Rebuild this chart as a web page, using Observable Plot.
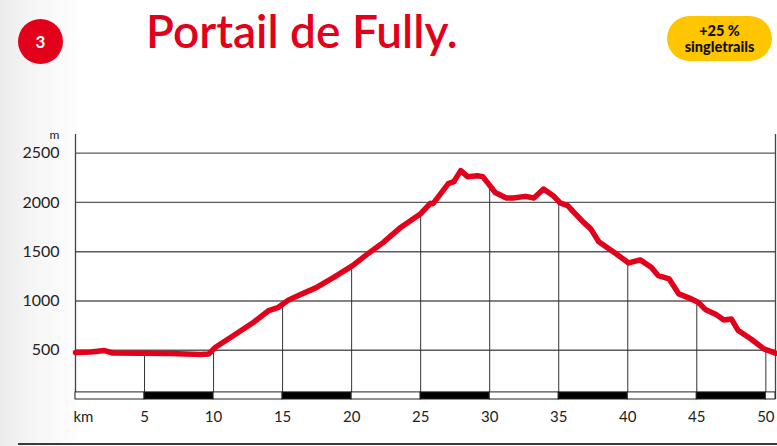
<!DOCTYPE html>
<html>
<head>
<meta charset="utf-8">
<script src="https://cdn.jsdelivr.net/npm/d3@7"></script>
<script src="https://cdn.jsdelivr.net/npm/@observablehq/plot@0.6"></script>
<style>
  html, body { margin: 0; padding: 0; background: #fff; }
  #wrap {
    position: relative; width: 777px; height: 446px; overflow: hidden;
    background: linear-gradient(to right, #ececec 0px, #f7f7f7 40px, #ffffff 85px);
    font-family: Lato, "Open Sans", sans-serif;
  }
  #num {
    position: absolute; left: 18px; top: 19px; width: 45px; height: 45px; border-radius: 50%;
    background: #e2001a; color: #fff; font-weight: 700; font-size: 17px;
    display: flex; align-items: center; justify-content: center;
  }
  #title {
    position: absolute; left: 146px; top: 3px; color: #e2001a;
    font-size: 46px; font-weight: 600; letter-spacing: 0px; white-space: nowrap;
  }
  #badge {
    position: absolute; left: 667px; top: 16px; width: 105px; height: 45px; border-radius: 23px;
    background: #ffc600; color: #111; font-weight: 900; font-size: 14.5px; line-height: 16px;
    display: flex; flex-direction: column; align-items: center; justify-content: center; text-align: center;
  }
  #rule { position: absolute; left: 18px; right: 0; top: 443px; height: 2px; background: #3a3a3a; }
  #chart { position: absolute; left: 0; top: 0; }
</style>
</head>
<body>
<div id="wrap">
  <div id="chart"></div>
  <div id="num">3</div>
  <div id="title">Portail de Fully.</div>
  <div id="badge"><span>+25 %</span><span>singletrails</span></div>
  <div id="rule"></div>
</div>
<script>
// Profile (km, m)
const km = [0, 1.1, 2.1, 2.7, 4.7, 6.9, 9.06, 9.64, 10.14, 11.45, 12.9, 14.0, 14.7, 15.36, 16.3, 17.4, 18.7, 20.07, 21.16, 22.3, 23.55, 25.0, 25.7, 25.9, 26.45, 27.0, 27.4, 27.9, 28.4, 29.1, 29.5, 29.9, 30.4, 31.2, 31.7, 32.6, 33.2, 33.9, 34.6, 35.1, 35.65, 36.1, 36.8, 37.3, 37.9, 39.0, 40.07, 40.9, 41.7, 42.2, 43.0, 43.7, 44.6, 45.1, 45.65, 46.4, 46.96, 47.5, 48.0, 48.9, 49.86, 50.7];
const elevation = [477, 482, 497, 472, 470, 467, 456, 463, 530, 649, 784, 903, 936, 1004, 1065, 1133, 1240, 1359, 1478, 1595, 1747, 1886, 1991, 1988, 2089, 2191, 2211, 2323, 2262, 2272, 2262, 2191, 2102, 2046, 2046, 2062, 2046, 2137, 2069, 1995, 1968, 1900, 1798, 1735, 1602, 1494, 1386, 1417, 1342, 1258, 1224, 1072, 1021, 987, 910, 862, 808, 818, 700, 616, 514, 470];

// Drop lines every 5 km, up to the profile
const dropKm = [5, 10, 15, 20, 25, 30, 35, 40, 45, 50];
const dropElevation = [467, 505, 975, 1354, 1886, 2170, 2008, 1385, 994, 512];

// Distance scale bar segments
const segStart = [0, 5, 10, 15, 20, 25, 30, 35, 40, 45, 50];
const segEnd   = [5, 10, 15, 20, 25, 30, 35, 40, 45, 50, 50.7];
const segDark  = [false, true, false, true, false, true, false, true, false, true, false];

const yTicks = [500, 1000, 1500, 2000, 2500];
const xTicks = [5, 10, 15, 20, 25, 30, 35, 40, 45, 50];
const kmMax = 50.7;
const yMax = 2690;

const profile = km.map((k, i) => ({km: k, elev: elevation[i]}));
const drops = dropKm.map((k, i) => ({km: k, elev: dropElevation[i]}));
const segs = segStart.map((s, i) => ({x1: s, x2: segEnd[i], dark: segDark[i]}));

const BAND = 72;
const font = "Lato, 'Open Sans', sans-serif";

const chart = Plot.plot({
  width: 777,
  height: 446,
  marginTop: 134,
  marginBottom: 47,
  marginLeft: 75,
  marginRight: 2,
  style: {background: "transparent", fontFamily: font, color: "#222", overflow: "visible"},
  x: {domain: [0, kmMax], label: null},
  y: {domain: [0, yMax], label: null},
  marks: [
    Plot.ruleY(yTicks, {x1: 0, x2: kmMax, stroke: "#5a5a5a", strokeWidth: 1.3}),
    Plot.ruleX(drops, {x: "km", y1: 0, y2: "elev", stroke: "#333", strokeWidth: 1}),
    Plot.ruleX([0, kmMax], {y1: 0, y2: yMax, stroke: "#444", strokeWidth: 1.3}),
    Plot.rect(segs, {x1: "x1", x2: "x2", y1: 0, y2: BAND, fill: d => d.dark ? "#000" : "#fff", stroke: "#222", strokeWidth: 1}),
    Plot.line(profile, {x: "km", y: "elev", stroke: "#e3001b", strokeWidth: 5.5, strokeLinejoin: "round", strokeLinecap: "round"}),
    Plot.axisY({ticks: yTicks, label: null, tickSize: 0, tickPadding: 16, fontSize: 16, tickFormat: d => String(d), style: {letterSpacing: "1.5px"}}),
    Plot.axisX({ticks: xTicks, label: null, tickSize: 0, tickPadding: 12, fontSize: 15, tickFormat: d => String(d), style: {letterSpacing: "1px"}}),
    Plot.text(["km"], {x: 0, y: 0, dx: -2, dy: 18, textAnchor: "start", fontSize: 15, fill: "#222"}),
    Plot.text(["m"], {x: 0, y: yMax, dx: -21, dy: 1, textAnchor: "middle", fontSize: 12, fill: "#222"})
  ]
});
document.getElementById("chart").appendChild(chart);
</script>
</body>
</html>
